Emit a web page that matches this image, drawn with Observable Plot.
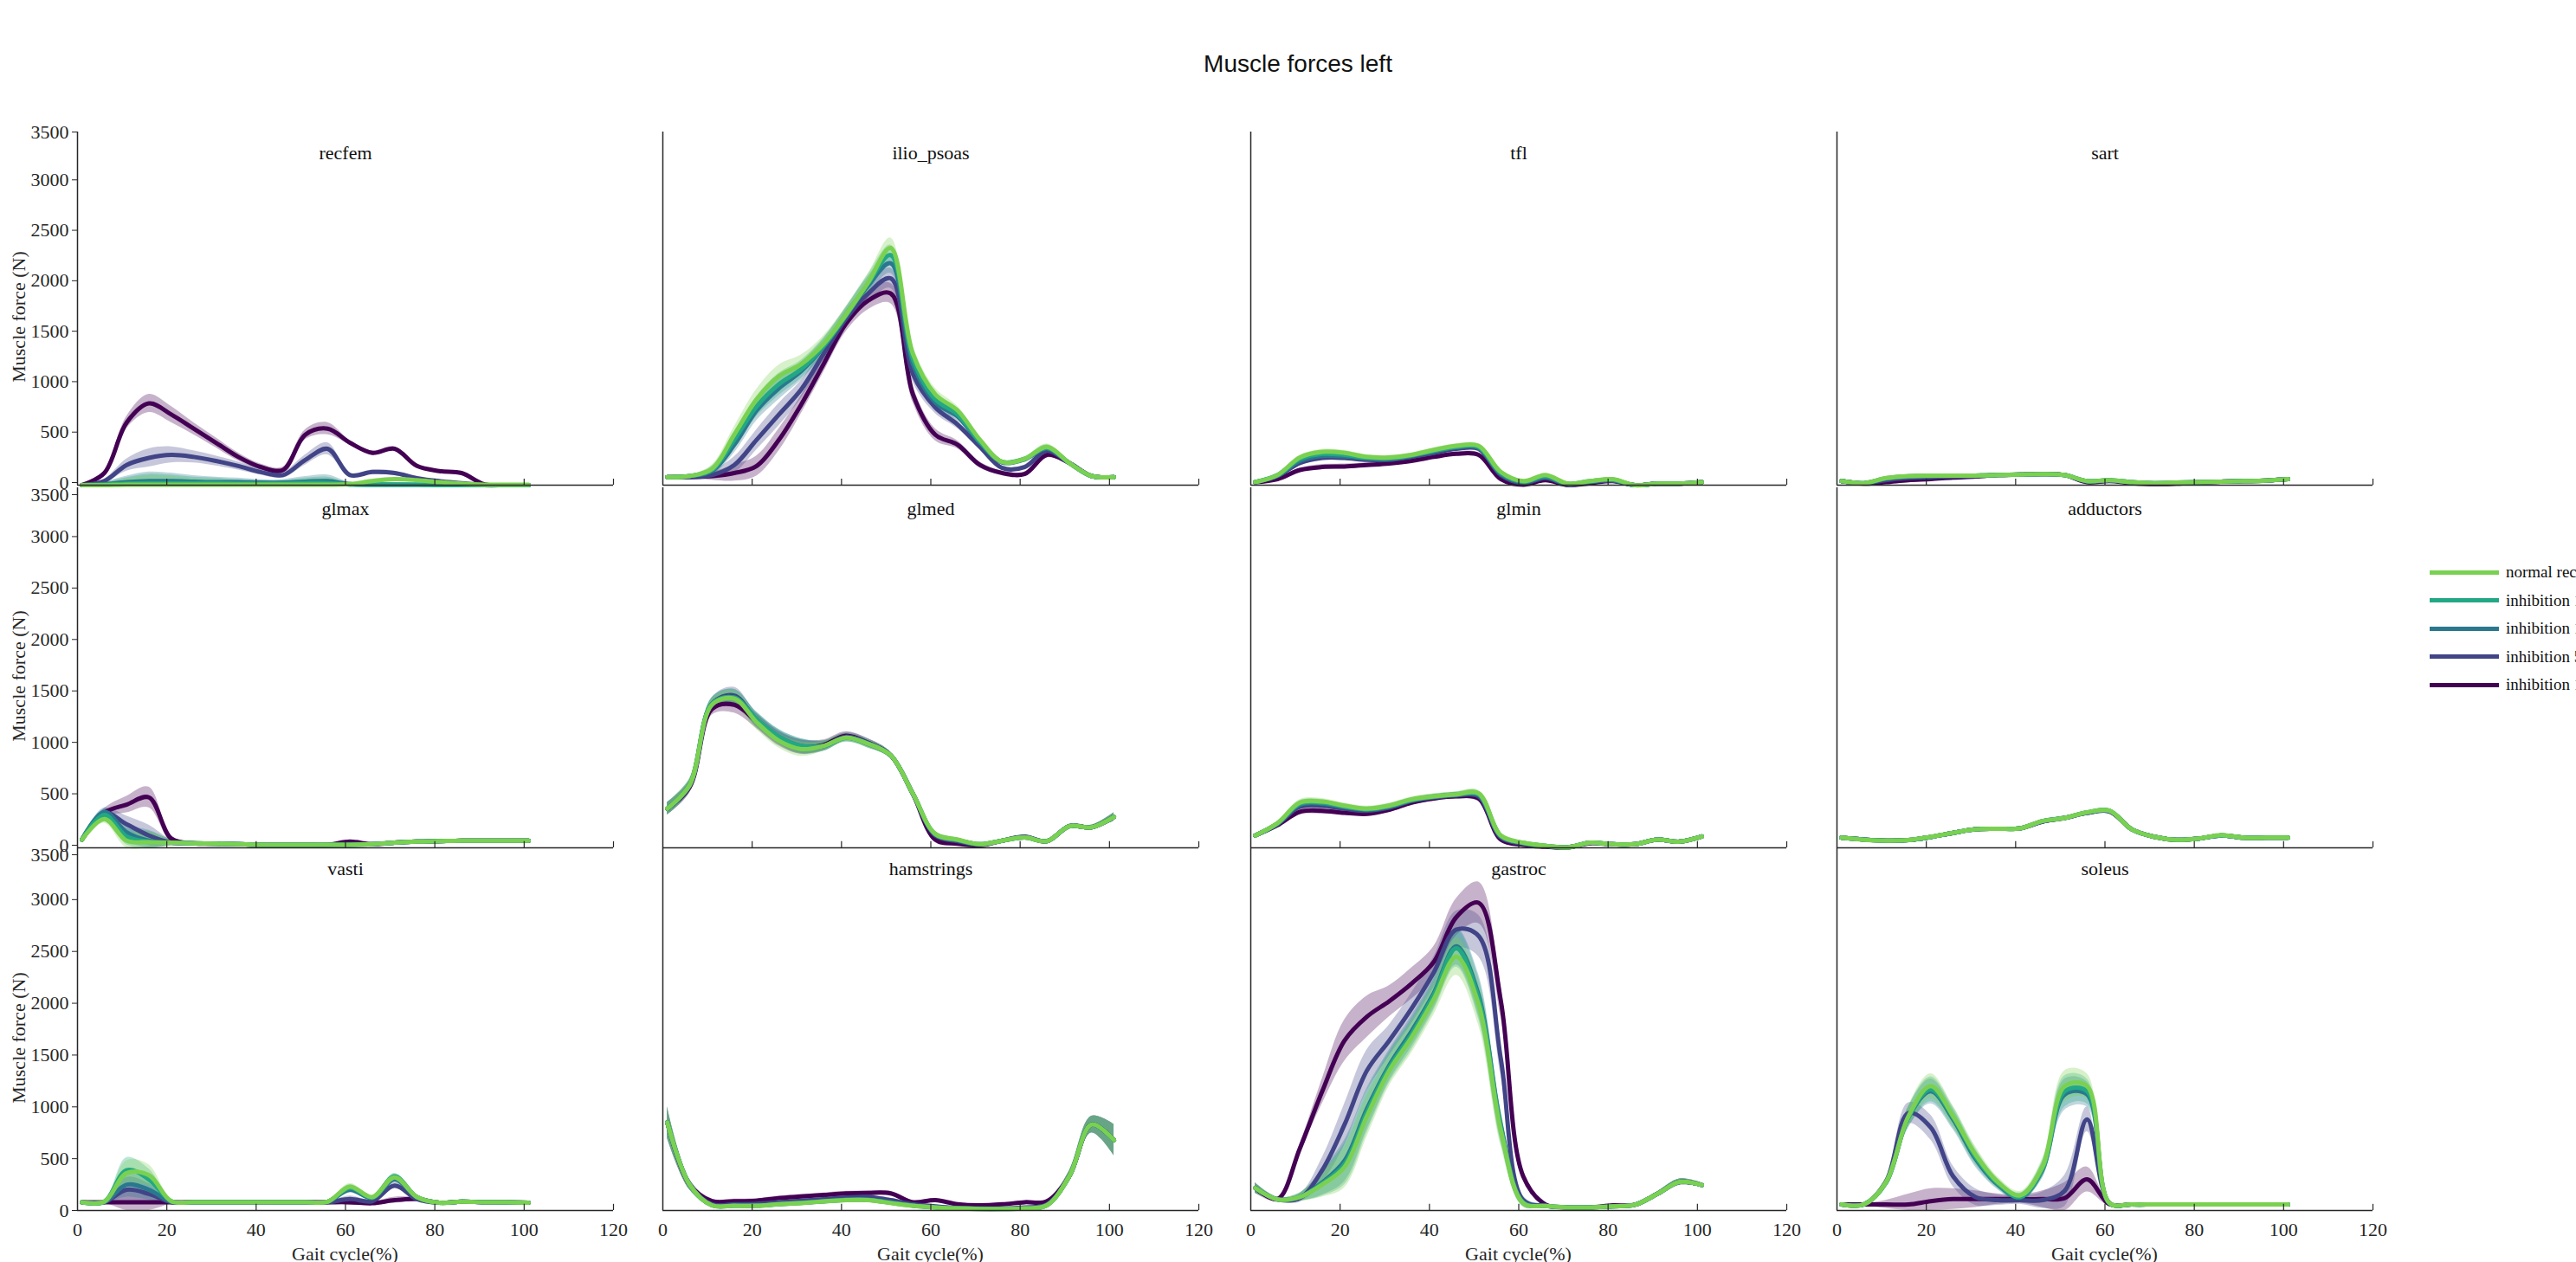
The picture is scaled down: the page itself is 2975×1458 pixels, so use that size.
<!DOCTYPE html>
<html>
<head>
<meta charset="utf-8">
<script src="https://cdn.jsdelivr.net/npm/d3@7"></script>
<script src="https://cdn.jsdelivr.net/npm/@observablehq/plot@0.6"></script>
<style>
  body { margin: 0; background: #fff; width: 2975px; height: 1458px; position: relative; overflow: hidden; font-family: "Liberation Serif", serif; }
  .panel { position: absolute; }
  .title { position: absolute; left: 0; width: 2998px; top: 58px; text-align: center; font: 28px "Liberation Sans", sans-serif; color: #111; }
  .ylab { position: absolute; font-size: 22px; color: #262626; transform: translate(-50%, -50%) rotate(-90deg); white-space: nowrap; }
  .xlab { position: absolute; font-size: 22px; color: #262626; transform: translateX(-50%); white-space: nowrap; }
  .legend { position: absolute; left: 2806px; top: 645px; font-size: 19px; color: #111; white-space: nowrap; }
  .legend div { display: flex; align-items: center; height: 32.5px; white-space: nowrap; }
  .legend span.sw { display: inline-block; flex: none; width: 80px; height: 5px; margin-right: 8px; }
</style>
</head>
<body>
<div class="title">Muscle forces left</div>
<div id="chart"></div>
<script>
// Gait cycle sample points (%)
const gait = [0, 5, 10, 15, 20, 25, 30, 35, 40, 45, 50, 55, 60, 65, 70, 75, 80, 85, 90, 95, 100];

const seriesNames = ["inhibition 1000", "inhibition 500", "inhibition 100", "inhibition 10", "normal recfem function"];
const seriesColors = ["#440154", "#414487", "#2a788e", "#22a884", "#7ad151"];
const legendOrder = ["normal recfem function", "inhibition 10", "inhibition 100", "inhibition 500", "inhibition 1000"];

const muscles = ["recfem", "ilio_psoas", "tfl", "sart", "glmax", "glmed", "glmin", "adductors", "vasti", "hamstrings", "gastroc", "soleus"];

// mean force per muscle, series order: 1000, 500, 100, 10, normal
const recfem = [
  [0, 120, 620, 810, 700, 560, 420, 280, 180, 150, 500, 560, 420, 320, 360, 190, 140, 120, 10, 0, 0],
  [0, 40, 200, 270, 300, 280, 240, 190, 130, 100, 250, 360, 100, 130, 120, 70, 40, 20, 0, 0, 0],
  [0, 10, 30, 40, 40, 35, 30, 30, 25, 25, 35, 40, 10, 5, 5, 5, 5, 0, 0, 0, 0],
  [0, 5, 15, 20, 20, 20, 20, 15, 15, 15, 20, 20, 5, 5, 5, 5, 0, 0, 0, 0, 0],
  [0, 0, 5, 5, 5, 5, 5, 5, 5, 5, 5, 5, 10, 40, 60, 50, 30, 15, 5, 5, 5]
];
const ilio_psoas = [
  [80, 80, 90, 120, 190, 450, 800, 1200, 1600, 1830, 1900, 900, 500, 400, 200, 120, 110, 300, 220, 90, 80],
  [80, 80, 100, 200, 450, 700, 950, 1300, 1650, 1900, 2050, 1100, 770, 600, 380, 170, 180, 340, 220, 90, 80],
  [80, 90, 140, 400, 740, 960, 1130, 1370, 1680, 1980, 2200, 1200, 820, 680, 420, 225, 255, 365, 220, 90, 80],
  [80, 90, 150, 450, 780, 1000, 1150, 1380, 1680, 2000, 2280, 1250, 850, 700, 430, 230, 260, 370, 220, 90, 80],
  [80, 90, 160, 500, 850, 1080, 1200, 1400, 1690, 2010, 2350, 1300, 900, 740, 450, 230, 260, 380, 220, 90, 80]
];
const tfl = [
  [30, 60, 150, 180, 185, 200, 215, 240, 280, 310, 300, 60, 5, 50, 0, 20, 40, 0, 15, 15, 30],
  [30, 90, 220, 270, 270, 250, 250, 280, 320, 360, 360, 100, 20, 70, 5, 30, 45, 0, 15, 15, 30],
  [30, 95, 240, 290, 285, 265, 260, 290, 335, 375, 370, 110, 30, 80, 10, 35, 50, 0, 15, 15, 30],
  [30, 100, 260, 310, 300, 270, 265, 295, 340, 380, 380, 120, 35, 90, 15, 40, 55, 0, 15, 15, 30],
  [30, 100, 275, 330, 320, 280, 275, 300, 350, 390, 390, 130, 40, 100, 15, 40, 60, 0, 15, 15, 30]
];
const sart = [
  [40, 15, 30, 50, 60, 75, 85, 100, 105, 110, 100, 30, 40, 20, 10, 15, 25, 35, 40, 45, 60],
  [40, 18, 50, 70, 80, 85, 90, 100, 105, 110, 100, 35, 45, 25, 15, 20, 28, 35, 40, 45, 60],
  [40, 20, 65, 85, 90, 92, 95, 100, 105, 110, 100, 40, 50, 30, 20, 25, 30, 35, 40, 45, 60],
  [40, 20, 68, 88, 93, 94, 95, 100, 105, 110, 100, 40, 50, 30, 20, 25, 30, 35, 40, 45, 60],
  [40, 20, 70, 90, 95, 95, 95, 100, 105, 110, 100, 40, 50, 30, 20, 25, 30, 35, 40, 45, 60]
];
const glmax = [
  [80, 340, 420, 490, 90, 45, 40, 35, 30, 30, 30, 30, 60, 35, 50, 60, 65, 70, 70, 70, 70],
  [80, 340, 230, 120, 50, 45, 40, 35, 30, 30, 30, 30, 35, 35, 50, 60, 65, 70, 70, 70, 70],
  [80, 350, 150, 70, 50, 45, 40, 35, 30, 30, 30, 30, 30, 35, 50, 60, 65, 70, 70, 70, 70],
  [80, 320, 110, 60, 50, 45, 40, 35, 30, 30, 30, 30, 30, 35, 50, 60, 65, 70, 70, 70, 70],
  [80, 280, 70, 55, 50, 45, 40, 35, 30, 30, 30, 30, 30, 35, 50, 60, 65, 70, 70, 70, 70]
];
const glmed = [
  [380, 590, 1350, 1390, 1230, 1060, 980, 1000, 1090, 1020, 900, 520, 80, 40, 25, 70, 105, 65, 210, 200, 300],
  [380, 600, 1400, 1480, 1240, 1070, 980, 990, 1080, 1020, 900, 525, 120, 65, 30, 70, 110, 65, 210, 200, 300],
  [380, 610, 1400, 1460, 1250, 1080, 990, 990, 1070, 1010, 900, 525, 130, 75, 35, 70, 100, 65, 210, 200, 300],
  [380, 610, 1400, 1460, 1250, 1080, 990, 990, 1070, 1010, 900, 525, 130, 75, 35, 70, 100, 65, 210, 200, 300],
  [380, 610, 1390, 1450, 1220, 1040, 960, 990, 1070, 1010, 900, 525, 135, 80, 35, 70, 100, 65, 210, 200, 300]
];
const glmin = [
  [120, 220, 350, 360, 340, 330, 370, 440, 480, 500, 480, 80, 30, 10, 5, 45, 35, 35, 80, 60, 110],
  [120, 230, 400, 410, 380, 360, 390, 455, 490, 510, 500, 100, 40, 15, 5, 48, 35, 35, 80, 60, 110],
  [120, 235, 420, 430, 395, 370, 400, 460, 495, 515, 515, 110, 45, 18, 5, 50, 35, 35, 80, 60, 110],
  [120, 238, 430, 440, 400, 375, 405, 465, 498, 518, 520, 115, 48, 20, 5, 50, 35, 35, 80, 60, 110],
  [120, 240, 440, 450, 410, 380, 410, 470, 500, 520, 530, 120, 50, 20, 5, 50, 35, 35, 80, 60, 110]
];
const adductors = [
  [98, 80, 70, 75, 105, 145, 180, 185, 190, 255, 290, 340, 355, 180, 107, 78, 90, 120, 98, 98, 98],
  [98, 80, 70, 75, 105, 145, 180, 185, 190, 255, 290, 340, 355, 180, 107, 78, 90, 120, 98, 98, 98],
  [98, 80, 70, 75, 105, 145, 180, 185, 190, 258, 292, 342, 358, 180, 107, 78, 90, 120, 98, 98, 98],
  [98, 80, 70, 75, 105, 145, 180, 185, 190, 260, 292, 345, 360, 180, 107, 78, 90, 120, 98, 98, 98],
  [98, 78, 70, 75, 107, 145, 180, 185, 190, 260, 290, 345, 360, 180, 107, 78, 90, 125, 98, 98, 98]
];
const vasti = [
  [80, 80, 80, 80, 80, 80, 80, 80, 80, 80, 80, 80, 80, 70, 100, 110, 75, 85, 80, 80, 75],
  [80, 80, 200, 160, 80, 80, 80, 80, 80, 80, 80, 80, 110, 90, 240, 110, 75, 85, 80, 80, 75],
  [80, 80, 250, 200, 85, 80, 80, 80, 80, 80, 80, 85, 200, 120, 300, 130, 75, 85, 80, 80, 75],
  [80, 85, 390, 300, 90, 80, 80, 80, 80, 80, 80, 85, 220, 125, 330, 130, 75, 85, 80, 80, 75],
  [80, 85, 360, 340, 90, 80, 80, 80, 80, 80, 80, 85, 230, 130, 320, 130, 75, 85, 80, 80, 75]
];
const hamstrings = [
  [850, 250, 90, 90, 95, 120, 135, 150, 165, 170, 165, 80, 100, 60, 50, 60, 80, 90, 330, 830, 680],
  [850, 250, 60, 60, 65, 80, 95, 110, 125, 130, 100, 60, 40, 25, 20, 20, 30, 60, 330, 830, 680],
  [850, 250, 52, 48, 48, 62, 75, 90, 105, 105, 78, 48, 32, 22, 16, 16, 22, 52, 330, 830, 680],
  [850, 250, 50, 46, 46, 60, 73, 88, 102, 102, 74, 46, 30, 20, 15, 15, 20, 50, 330, 830, 680],
  [850, 250, 50, 45, 45, 60, 72, 87, 100, 100, 72, 45, 30, 20, 15, 15, 20, 50, 330, 830, 680]
];
const gastroc = [
  [217, 110, 600, 1150, 1640, 1870, 2020, 2190, 2400, 2830, 2970, 2020, 330, 58, 30, 30, 50, 55, 160, 275, 246],
  [217, 107, 120, 390, 830, 1350, 1640, 1950, 2300, 2710, 2650, 1460, 100, 45, 30, 30, 40, 55, 160, 275, 246],
  [217, 107, 130, 270, 480, 980, 1400, 1730, 2100, 2550, 2080, 820, 80, 43, 30, 30, 40, 55, 160, 275, 246],
  [217, 107, 130, 260, 450, 950, 1380, 1700, 2080, 2530, 2050, 800, 75, 43, 30, 30, 40, 55, 160, 275, 246],
  [217, 107, 130, 250, 420, 910, 1350, 1670, 2040, 2450, 1990, 770, 72, 43, 30, 30, 40, 55, 160, 275, 246]
];
const soleus = [
  [58, 58, 58, 58, 90, 110, 110, 110, 110, 110, 120, 300, 60, 58, 58, 58, 58, 58, 58, 58, 58],
  [58, 58, 280, 940, 800, 330, 130, 100, 100, 100, 190, 880, 72, 58, 58, 58, 58, 58, 58, 58, 58],
  [58, 58, 270, 900, 1150, 880, 500, 250, 125, 390, 1120, 1120, 70, 58, 58, 58, 58, 58, 58, 58, 58],
  [58, 58, 270, 900, 1170, 900, 520, 260, 130, 400, 1150, 1150, 70, 58, 58, 58, 58, 58, 58, 58, 58],
  [58, 58, 275, 910, 1200, 910, 540, 275, 145, 420, 1200, 1200, 72, 58, 58, 58, 58, 58, 58, 58, 58]
];

// spread (SD) per muscle, used for the shaded bands
const recfemSd = [0, 20, 60, 90, 80, 60, 50, 40, 30, 30, 50, 60, 20, 20, 20, 10, 10, 10, 0, 0, 0];
const ilioSd = [0, 10, 40, 80, 100, 110, 90, 80, 80, 90, 100, 80, 60, 40, 30, 20, 20, 30, 10, 0, 0];
const tflSd = [5, 10, 20, 25, 25, 20, 20, 20, 20, 20, 20, 15, 10, 10, 5, 5, 5, 5, 5, 5, 5];
const sartSd = [5, 5, 8, 8, 8, 8, 8, 8, 8, 8, 8, 5, 5, 5, 5, 5, 5, 5, 5, 5, 5];
const glmaxSd = [10, 40, 80, 100, 30, 5, 5, 5, 5, 5, 5, 5, 10, 5, 5, 5, 5, 5, 5, 5, 5];
const glmedSd = [60, 60, 60, 80, 70, 70, 70, 50, 40, 40, 30, 30, 30, 20, 10, 15, 15, 10, 20, 20, 40];
const glminSd = [15, 20, 30, 30, 25, 25, 25, 25, 25, 25, 30, 20, 10, 10, 5, 5, 5, 5, 5, 5, 10];
const adductorsSd = [10, 10, 10, 10, 10, 10, 10, 10, 10, 10, 10, 15, 20, 10, 10, 10, 10, 10, 10, 10, 10];
const vastiSd = [5, 10, 120, 100, 20, 5, 5, 5, 5, 5, 5, 10, 30, 15, 30, 15, 5, 5, 5, 5, 5];
const hamstringsSd = [150, 50, 20, 20, 20, 20, 20, 20, 20, 20, 20, 15, 15, 10, 10, 10, 10, 15, 50, 80, 150];
const gastrocSd = [50, 20, 40, 120, 200, 200, 150, 150, 150, 180, 200, 150, 40, 10, 10, 10, 10, 10, 20, 30, 20];
const soleusSd = [10, 10, 40, 100, 120, 100, 80, 50, 40, 80, 150, 120, 20, 10, 10, 10, 10, 10, 10, 10, 10];

const xTicks = [0, 20, 40, 60, 80, 100, 120];
const yTicks = [0, 500, 1000, 1500, 2000, 2500, 3000];
const yTop = [3500];

const means = { recfem, ilio_psoas, tfl, sart, glmax, glmed, glmin, adductors, vasti, hamstrings, gastroc, soleus };
const sds = { recfem: recfemSd, ilio_psoas: ilioSd, tfl: tflSd, sart: sartSd, glmax: glmaxSd, glmed: glmedSd,
  glmin: glminSd, adductors: adductorsSd, vasti: vastiSd, hamstrings: hamstringsSd, gastroc: gastrocSd, soleus: soleusSd };

// panel geometry (axes frame in page pixels)
const colLeft = [89, 765, 1444, 2121];
const rowTop = [152, 563, 979];
const rowH = [408, 416, 419];
const frameW = 619;
const mL = 90, mR = 20, mT = 10;

const chart = document.getElementById("chart");

muscles.forEach((m, i) => {
  const col = i % 4, row = Math.floor(i / 4);
  const rows = [];
  means[m].forEach((vals, s) => {
    vals.forEach((v, k) => {
      const sd = sds[m][k];
      rows.push({ series: seriesNames[s], x: gait[k] + 1, y: v, lo: Math.max(0, v - sd), hi: v + sd });
    });
  });
  const bottom = row === 2;
  const mB = bottom ? 70 : 6;
  const plot = Plot.plot({
    width: frameW + mL + mR,
    height: rowH[row] + mT + mB,
    marginLeft: mL, marginRight: mR, marginTop: mT, marginBottom: mB,
    style: { fontFamily: "Liberation Serif, serif", fontSize: "22px", color: "#262626", background: "transparent", overflow: "visible" },
    x: { domain: [0, 120], ticks: xTicks, axis: null },
    y: { domain: [0, 3500], axis: null },
    color: { domain: seriesNames, range: seriesColors },
    marks: [
      col === 0 ? Plot.axisY({ ticks: yTicks, tickSize: 6, tickPadding: 4, label: null, tickFormat: d => String(d), dy: row < 2 ? -3 : 0 }) : null,
      col === 0 ? Plot.axisY({ ticks: yTop, tickSize: 6, tickPadding: 4, label: null, tickFormat: d => String(d), dy: row > 0 ? 8 : 0 }) : null,
      bottom ? Plot.axisX({ ticks: xTicks, tickSize: 0, tickPadding: 14, label: null, tickFormat: d => String(d) }) : null,
      Plot.areaY(rows, { x: "x", y1: "lo", y2: "hi", z: "series", fill: "series", fillOpacity: 0.3, curve: "catmull-rom" }),
      Plot.lineY(rows, { x: "x", y: "y", z: "series", stroke: "series", strokeWidth: 5, curve: "catmull-rom" }),
      Plot.ruleY([0], { stroke: "#262626", strokeWidth: 1.5 }),
      Plot.ruleX([0], { stroke: "#262626", strokeWidth: 1.5 }),
      Plot.ruleX(xTicks.slice(1), { y1: 0, y2: 60, stroke: "#262626", strokeWidth: 1.2 }),
      Plot.text([m], { frameAnchor: "top", dy: 16, text: d => d, fontSize: 22, fill: "#111" })
    ]
  });
  const div = document.createElement("div");
  div.className = "panel";
  div.style.left = (colLeft[col] - mL) + "px";
  div.style.top = (rowTop[row] - mT) + "px";
  div.append(plot);
  chart.append(div);

  if (col === 0) {
    const yl = document.createElement("div");
    yl.className = "ylab";
    yl.textContent = "Muscle force (N)";
    yl.style.left = "22px";
    yl.style.top = (rowTop[row] + rowH[row] / 2 + 10) + "px";
    chart.append(yl);
  }
  if (bottom) {
    const xl = document.createElement("div");
    xl.className = "xlab";
    xl.textContent = "Gait cycle(%)";
    xl.style.left = (colLeft[col] + frameW / 2) + "px";
    xl.style.top = "1436px";
    chart.append(xl);
  }
});

// legend
const legend = document.createElement("div");
legend.className = "legend";
legendOrder.forEach(name => {
  const row = document.createElement("div");
  const sw = document.createElement("span");
  sw.className = "sw";
  sw.style.background = seriesColors[seriesNames.indexOf(name)];
  row.append(sw, document.createTextNode(name));
  legend.append(row);
});
chart.append(legend);
</script>
</body>
</html>
